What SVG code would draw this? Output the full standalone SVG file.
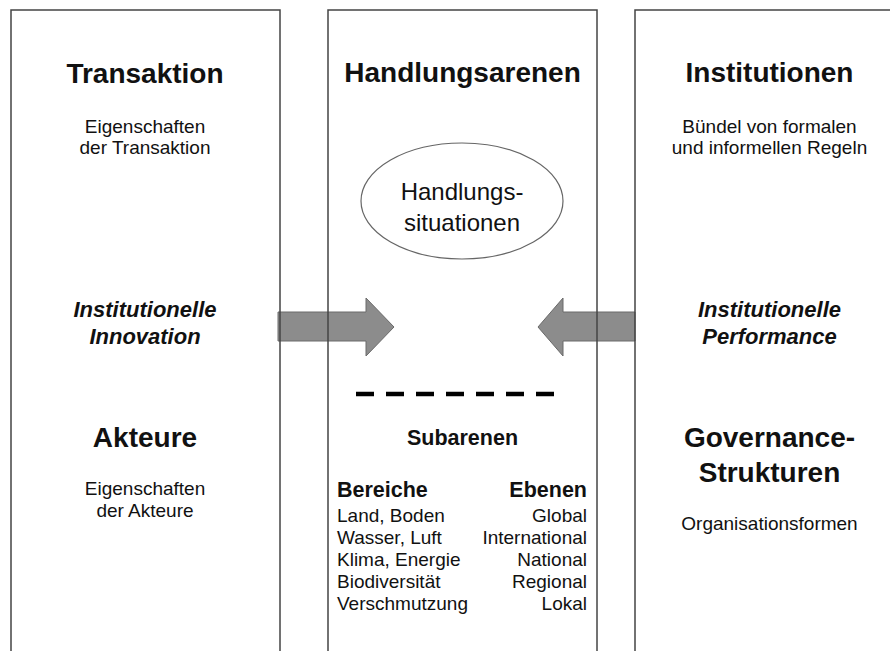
<svg xmlns="http://www.w3.org/2000/svg" width="890" height="651" viewBox="0 0 890 651">
<style>
text{font-family:"Liberation Sans",Arial,sans-serif;fill:#111;text-anchor:middle}
.h{font-size:28px;font-weight:bold}
.s{font-size:19px}
.bi{font-size:22px;font-weight:bold;font-style:italic}
.sb{font-size:21.5px;font-weight:bold}
.l{font-size:19px;text-anchor:start}
.r{font-size:19px;text-anchor:end}
.col{fill:none;stroke:#444;stroke-width:1.5}
.arrow{fill:#8c8c8c;stroke:#6a6a6a;stroke-width:1}
</style>
<rect width="890" height="651" fill="#fff"/>
<g id="connectors">
<polygon class="arrow" points="278,312 366,312 366,298 394,327 366,356 366,341 278,341"/>
<polygon class="arrow" points="635,312 563,312 563,298 538,327 563,356 563,341 635,341"/>
</g>
<g id="transaktion">
<rect class="col" x="11" y="10" width="269" height="660"/>
<text class="h" x="145" y="83">Transaktion</text>
<text class="s" x="145" y="133">Eigenschaften</text>
<text class="s" x="145" y="154">der Transaktion</text>
<text class="bi" x="145" y="317">Institutionelle</text>
<text class="bi" x="145" y="344">Innovation</text>
<text class="h" x="145" y="447">Akteure</text>
<text class="s" x="145" y="495">Eigenschaften</text>
<text class="s" x="145" y="517">der Akteure</text>
</g>
<g id="handlungsarenen">
<rect class="col" x="328" y="10" width="269" height="660"/>
<text class="h" x="462.5" y="82">Handlungsarenen</text>
<text class="sb" x="462.5" y="445">Subarenen</text>
<text class="sb" x="337" y="497" style="text-anchor:start">Bereiche</text>
<text class="sb" x="587" y="497" style="text-anchor:end">Ebenen</text>
<text class="l" x="337" y="522">Land, Boden</text>
<text class="l" x="337" y="544">Wasser, Luft</text>
<text class="l" x="337" y="566">Klima, Energie</text>
<text class="l" x="337" y="588">Biodiversität</text>
<text class="l" x="337" y="610">Verschmutzung</text>
<text class="r" x="587" y="522">Global</text>
<text class="r" x="587" y="544">International</text>
<text class="r" x="587" y="566">National</text>
<text class="r" x="587" y="588">Regional</text>
<text class="r" x="587" y="610">Lokal</text>
<line x1="356" y1="394" x2="560" y2="394" stroke="#000" stroke-width="4.5" stroke-dasharray="18 12"/>
</g>
<g id="handlungssituationen">
<ellipse cx="462" cy="201" rx="101" ry="58" fill="none" stroke="#666" stroke-width="1.2"/>
<text x="462" y="200" style="font-size:24px">Handlungs-</text>
<text x="462" y="231" style="font-size:24px">situationen</text>
</g>
<g id="institutionen">
<rect class="col" x="635" y="10" width="269" height="660"/>
<text class="h" x="769.5" y="82">Institutionen</text>
<text class="s" x="769.5" y="133">Bündel von formalen</text>
<text class="s" x="769.5" y="154">und informellen Regeln</text>
<text class="bi" x="769.5" y="317">Institutionelle</text>
<text class="bi" x="769.5" y="344">Performance</text>
<text class="h" x="769.5" y="447">Governance-</text>
<text class="h" x="769.5" y="482">Strukturen</text>
<text class="s" x="769.5" y="530">Organisationsformen</text>
</g>
</svg>
